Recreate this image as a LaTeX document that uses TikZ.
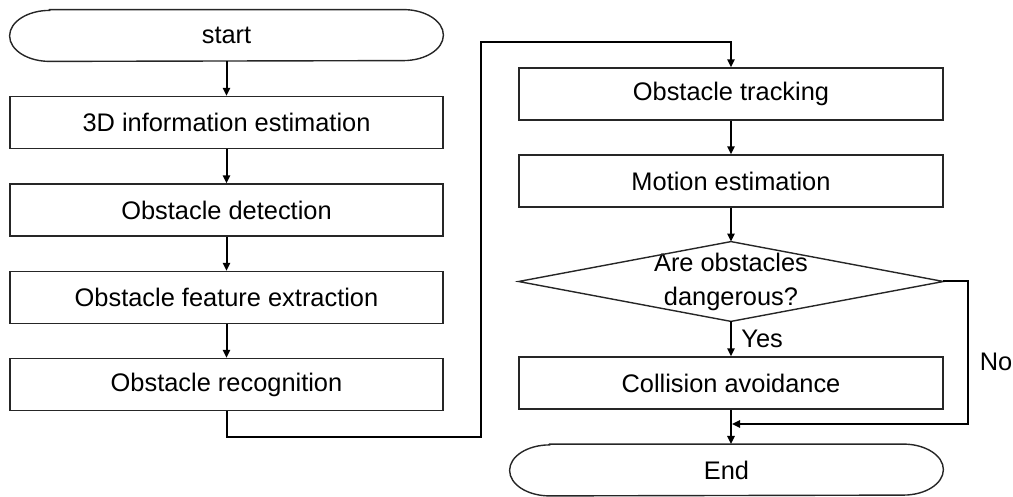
\documentclass[tikz,border=0pt]{standalone}
\usepackage{fontspec}
\setmainfont{Liberation Sans}
\usetikzlibrary{arrows.meta}
\begin{document}
\begin{tikzpicture}[x=0.5pt,y=-0.5pt,
  every node/.style={font=\fontsize{12.7pt}{17pt}\selectfont},
  procbox/.style={draw=black!85,line width=0.7pt,rectangle,inner sep=0pt,minimum height=26pt},
  leftbox/.style={procbox,minimum width=216.5pt},
  rightbox/.style={procbox,minimum width=212pt},
  termbox/.style={rectangle,inner sep=0pt,minimum width=216.5pt,minimum height=25.5pt},
  arr/.style={line width=1pt,-{Triangle[length=4pt,width=3.6pt]}},
  plain/.style={line width=1pt}]
\useasboundingbox (0,0) rectangle (1013,497);
% left column
\node[termbox] (start) at (226.5,35.5) {start};
\draw[line width=0.7pt,draw=black!85] ([xshift=20pt]start.north west) -- ([xshift=-20pt]start.north east)
  arc[start angle=90,end angle=-90,x radius=20pt,y radius=12.75pt]
  -- ([xshift=20pt]start.south west)
  arc[start angle=270,end angle=90,x radius=20pt,y radius=12.75pt] -- cycle;
\node[leftbox] (b1) at (226.5,122.5) {3D information estimation};
\node[leftbox] (b2) at (226.5,210) {Obstacle detection};
\node[leftbox] (b3) at (226.5,297.5) {Obstacle feature extraction};
\node[leftbox] (b4) at (226.5,384.5) {Obstacle recognition};
% right column
\node[rightbox] (track) at (731,94) {Obstacle tracking};
\node[rightbox] (motion) at (731,181) {Motion estimation};
\node[rectangle,inner sep=0pt,minimum width=212pt,minimum height=39.5pt,align=center] (dia) at (731,281.5) {Are obstacles\\dangerous?};
\draw[line width=0.7pt,draw=black!85] (dia.north) -- (dia.east) -- (dia.south) -- (dia.west) -- cycle;
\node[rightbox] (coll) at (731,383) {Collision avoidance};
\node[termbox] (end) at (726.5,470) {End};
\draw[line width=0.7pt,draw=black!85] ([xshift=20pt]end.north west) -- ([xshift=-20pt]end.north east)
  arc[start angle=90,end angle=-90,x radius=20pt,y radius=12.75pt]
  -- ([xshift=20pt]end.south west)
  arc[start angle=270,end angle=90,x radius=20pt,y radius=12.75pt] -- cycle;
% labels
\node[anchor=west,inner sep=0pt] (yes) at (741,339) {Yes};
\node[inner sep=0pt] (no) at (996,362) {No};
% connectors
\draw[arr] (start.south) -- (b1.north);
\draw[arr] (b1.south) -- (b2.north);
\draw[arr] (b2.south) -- (b3.north);
\draw[arr] (b3.south) -- (b4.north);
\coordinate (bendA) at (481,437);
\coordinate (bendB) at (481,42);
\draw[arr] (b4.south) |- (bendA) -- (bendB) -| (track.north);
\draw[arr] (track.south) -- (motion.north);
\draw[arr] (motion.south) -- (dia.north);
\draw[arr] (dia.south) -- (coll.north);
\draw[arr] (coll.south) -- (731,444);
\coordinate (noR) at (968,281.5);
\coordinate (merge) at (732,424);
\draw[arr] (dia.east) -- (noR) |- (merge);
\end{tikzpicture}
\end{document}
